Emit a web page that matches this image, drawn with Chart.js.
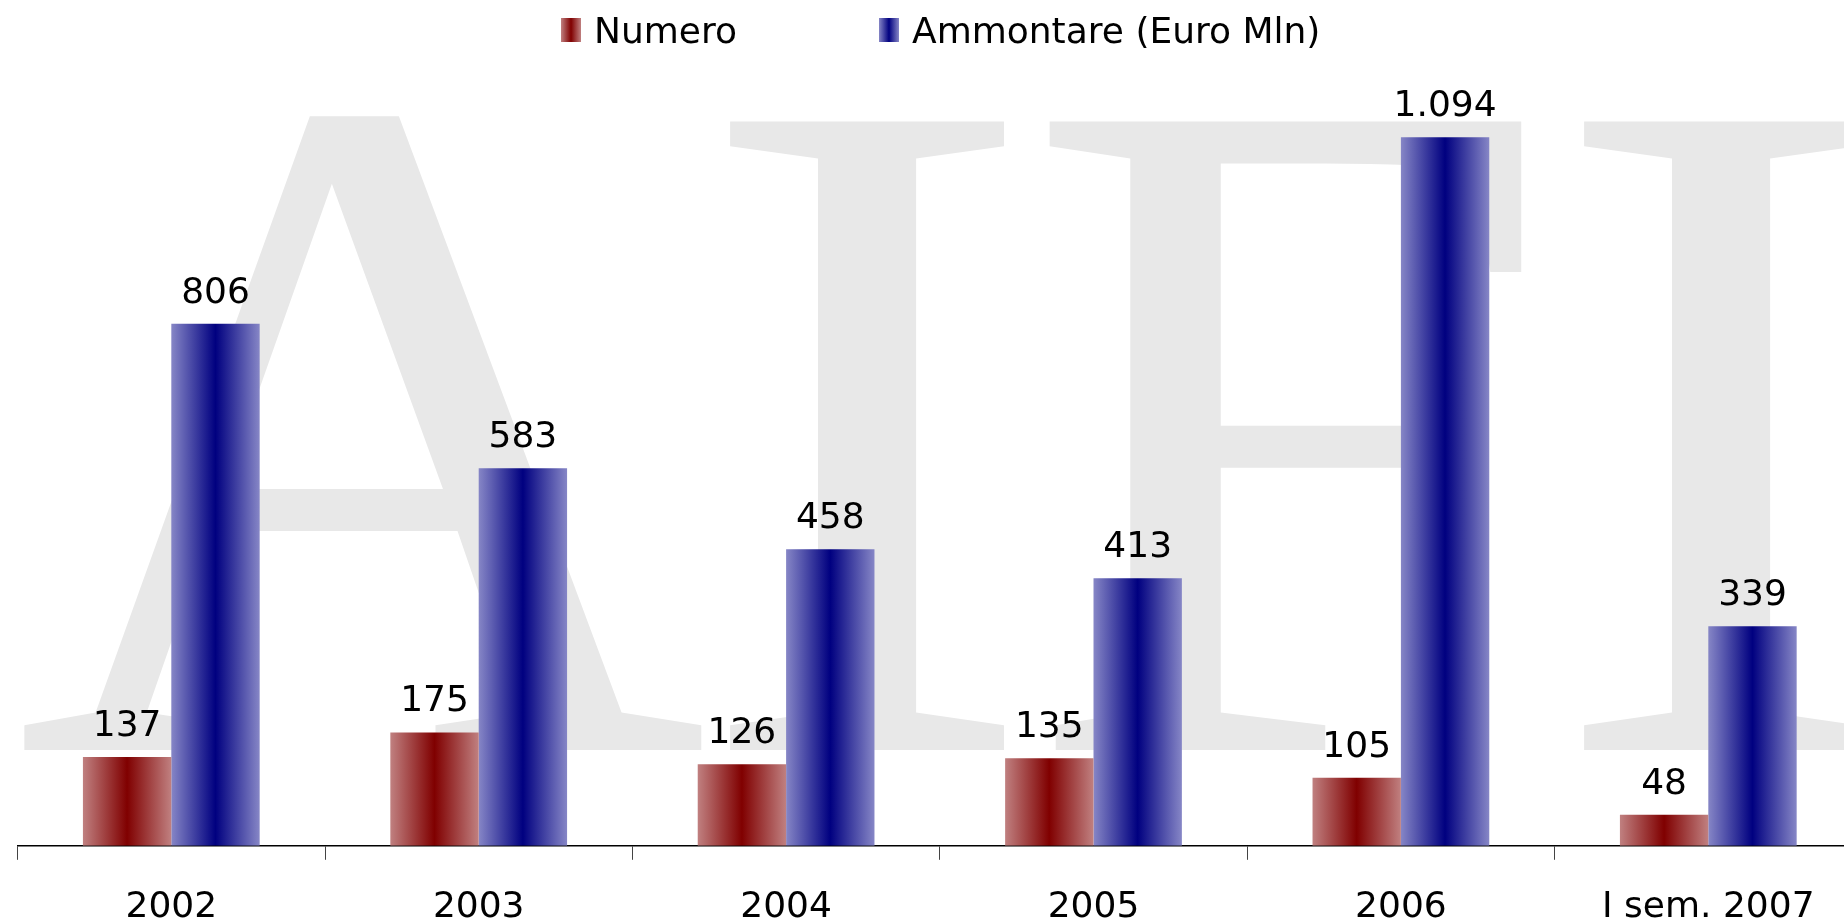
<!DOCTYPE html>
<html>
<head>
<meta charset="utf-8">
<script src="https://cdn.jsdelivr.net/npm/chart.js@4"></script>
<style>
html, body { margin: 0; padding: 0; background: #fff; overflow: hidden; }
#wrap { position: absolute; left: 0; top: 0; width: 1862px; height: 921px; }
</style>
</head>
<body>
<div id="wrap"><canvas id="chart" width="1862" height="921"></canvas></div>
<script>
const categories = ['2002', '2003', '2004', '2005', '2006', 'I sem. 2007'];
const numero = [137, 175, 126, 135, 105, 48];
const ammontare = [806, 583, 458, 413, 1094, 339];
const seriesNames = ['Numero', 'Ammontare (Euro Mln)'];
const yMax = 1200;

const CAT_PCT = 0.575;
const RED = ['#800000', '#c08080'];
const BLUE = ['#000080', '#8686c6'];
const FONT = '"DejaVu Sans", Verdana, sans-serif';

function fmt(v) {
    return String(v).replace(/\B(?=(\d{3})+(?!\d))/g, '.');
}

// gradiente orizzontale chiaro-scuro-chiaro per ogni barra
function barGradient(ctx, colors, dsIndex) {
    const chart = ctx.chart;
    const xs = chart.scales.x;
    if (!xs || ctx.dataIndex === undefined) return colors[0];
    const catW = xs.width / categories.length;
    const barW = catW * CAT_PCT / 2;
    const center = xs.getPixelForValue(ctx.dataIndex);
    const left = center - catW * CAT_PCT / 2 + dsIndex * barW;
    if (!isFinite(left) || !isFinite(barW) || barW <= 0) return colors[0];
    const g = chart.ctx.createLinearGradient(left, 0, left + barW, 0);
    g.addColorStop(0, colors[1]);
    g.addColorStop(0.5, colors[0]);
    g.addColorStop(1, colors[1]);
    return g;
}

// scritta AIFI in filigrana
const watermark = {
    id: 'watermark',
    beforeDatasetsDraw(chart) {
        const c = chart.ctx;
        c.save();
        c.font = '960px "Liberation Serif", "Times New Roman", serif';
        c.fillStyle = '#e8e8e8';
        c.textBaseline = 'alphabetic';
        const letters = [['A', 15, 1], ['I', 725, 1.09], ['F', 1037, 1], ['I', 1579, 1.09]];
        letters.forEach(([ch, inkLeft, sx]) => {
            const m = c.measureText(ch);
            c.save();
            c.translate(inkLeft, 750);
            c.scale(sx, 1);
            c.fillText(ch, m.actualBoundingBoxLeft, 0);
            c.restore();
        });
        c.restore();
    }
};

const valueLabels = {
    id: 'valueLabels',
    afterDatasetsDraw(chart) {
        const c = chart.ctx;
        c.save();
        c.font = '36px ' + FONT;
        c.fillStyle = '#000';
        c.textAlign = 'center';
        c.textBaseline = 'alphabetic';
        chart.data.datasets.forEach((ds, i) => {
            chart.getDatasetMeta(i).data.forEach((bar, j) => {
                c.fillText(fmt(ds.data[j]), bar.x, bar.y - 21);
            });
        });
        c.restore();
    }
};

const topLegend = {
    id: 'topLegend',
    afterDraw(chart) {
        const c = chart.ctx;
        const items = [
            { text: seriesNames[0], x: 561, colors: RED },
            { text: seriesNames[1], x: 879, colors: BLUE }
        ];
        c.save();
        c.font = '36px ' + FONT;
        c.textBaseline = 'middle';
        items.forEach(it => {
            const g = c.createLinearGradient(it.x, 0, it.x + 20, 0);
            g.addColorStop(0, it.colors[1]);
            g.addColorStop(0.5, it.colors[0]);
            g.addColorStop(1, it.colors[1]);
            c.fillStyle = g;
            c.fillRect(it.x, 18, 20, 24);
            c.fillStyle = '#000';
            c.fillText(it.text, it.x + 33, 34);
        });
        c.restore();
    }
};

new Chart(document.getElementById('chart'), {
    type: 'bar',
    data: {
        labels: categories,
        datasets: [
            {
                label: seriesNames[0],
                data: numero,
                backgroundColor: ctx => barGradient(ctx, RED, 0),
                borderWidth: 0,
                categoryPercentage: CAT_PCT,
                barPercentage: 1
            },
            {
                label: seriesNames[1],
                data: ammontare,
                backgroundColor: ctx => barGradient(ctx, BLUE, 1),
                borderWidth: 0,
                categoryPercentage: CAT_PCT,
                barPercentage: 1
            }
        ]
    },
    options: {
        responsive: false,
        devicePixelRatio: 1,
        animation: false,
        layout: { padding: { left: 17.6, right: 0, top: 68.6, bottom: -34 } },
        plugins: { legend: { display: false }, tooltip: { enabled: false } },
        scales: {
            y: { display: false, min: 0, max: yMax },
            x: {
                grid: { drawOnChartArea: false, drawTicks: true, tickLength: 14, color: '#444', lineWidth: 1 },
                border: { display: true, color: '#000', width: 1.5 },
                ticks: { font: { family: FONT, size: 36 }, color: '#000', padding: 26, maxRotation: 0, autoSkip: false }
            }
        }
    },
    plugins: [watermark, valueLabels, topLegend]
});
</script>
</body>
</html>
